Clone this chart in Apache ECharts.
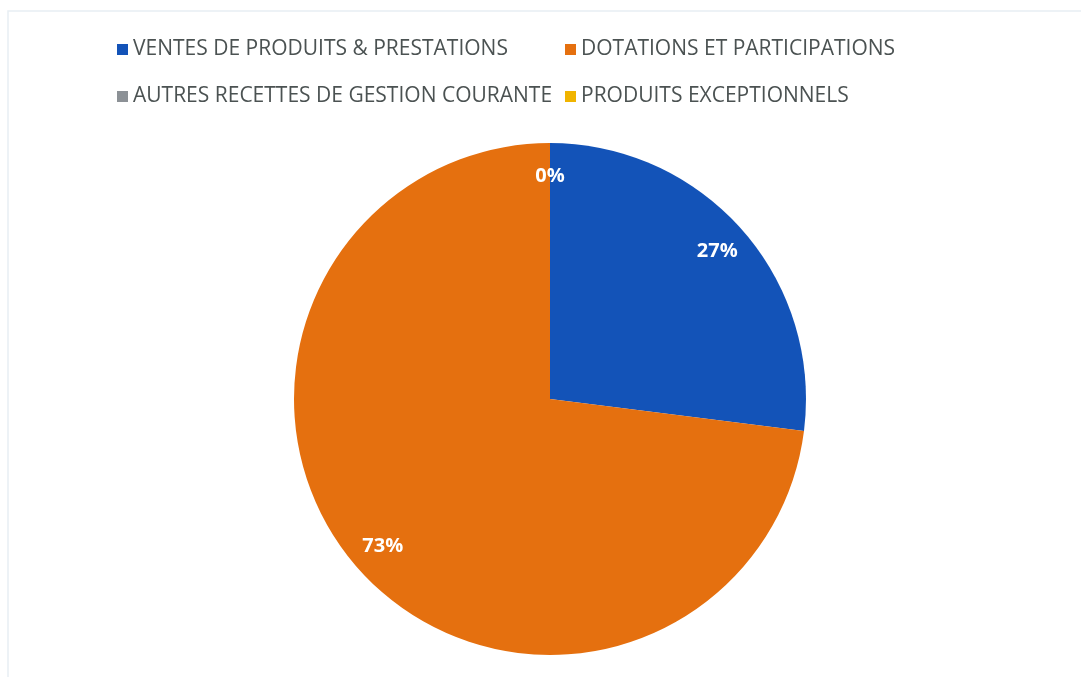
<!DOCTYPE html>
<html>
<head>
<meta charset="utf-8">
<script src="https://cdn.jsdelivr.net/npm/echarts@6/dist/echarts.min.js"></script>
<style>
html,body{margin:0;padding:0;background:#fff;}
#chart{width:1081px;height:677px;}
</style>
</head>
<body>
<div id="chart"></div>
<script>
const categories = [
  'VENTES DE PRODUITS & PRESTATIONS',
  'DOTATIONS ET PARTICIPATIONS',
  'AUTRES RECETTES DE GESTION COURANTE',
  'PRODUITS EXCEPTIONNELS'
];
const shares = [27, 73, 0, 0];
const colors = ['#1353b8', '#e5700f', '#8c9196', '#f0b400'];

const chart = echarts.init(document.getElementById('chart'));
const data = categories.map((n, i) => ({ name: n, value: shares[i], itemStyle: { color: colors[i] } }));
const labelData = categories.map((n, i) => ({ name: n, value: shares[i] }));

const legendPos = [
  { left: 117, top: 39 },
  { left: 565, top: 39 },
  { left: 117, top: 86 },
  { left: 565, top: 86 }
];
const legends = categories.map((n, i) => ({
  left: legendPos[i].left,
  top: legendPos[i].top,
  padding: 0,
  orient: 'horizontal',
  icon: 'rect',
  itemWidth: 11,
  itemHeight: 11,
  selectedMode: false,
  data: [{ name: n, itemStyle: { color: colors[i] } }],
  textStyle: { fontFamily: 'Open Sans', fontSize: 21, color: '#4b5252' }
}));

chart.setOption({
  animation: false,
  backgroundColor: '#ffffff',
  legend: legends,
  graphic: [{
    type: 'rect',
    shape: { x: 8, y: 11, width: 1090, height: 680 },
    style: { fill: 'none', stroke: '#e8eef3', lineWidth: 1.5 },
    silent: true
  }],
  series: [
    {
      type: 'pie',
      center: [550, 399],
      radius: [0, 256],
      startAngle: 90,
      clockwise: true,
      avoidLabelOverlap: false,
      label: { show: false },
      labelLine: { show: false },
      itemStyle: { borderWidth: 0 },
      emphasis: { disabled: true },
      data: data
    },
    {
      type: 'pie',
      center: [550, 399],
      radius: [184, 256],
      startAngle: 90,
      clockwise: true,
      silent: true,
      avoidLabelOverlap: false,
      percentPrecision: 0,
      itemStyle: { color: 'rgba(0,0,0,0)', borderWidth: 0 },
      label: {
        show: true,
        position: 'inside',
        formatter: '{d}%',
        color: '#ffffff',
        fontFamily: 'Open Sans',
        fontWeight: 'bold',
        fontSize: 20
      },
      labelLine: { show: false },
      emphasis: { disabled: true },
      data: labelData
    }
  ]
});
</script>
</body>
</html>
